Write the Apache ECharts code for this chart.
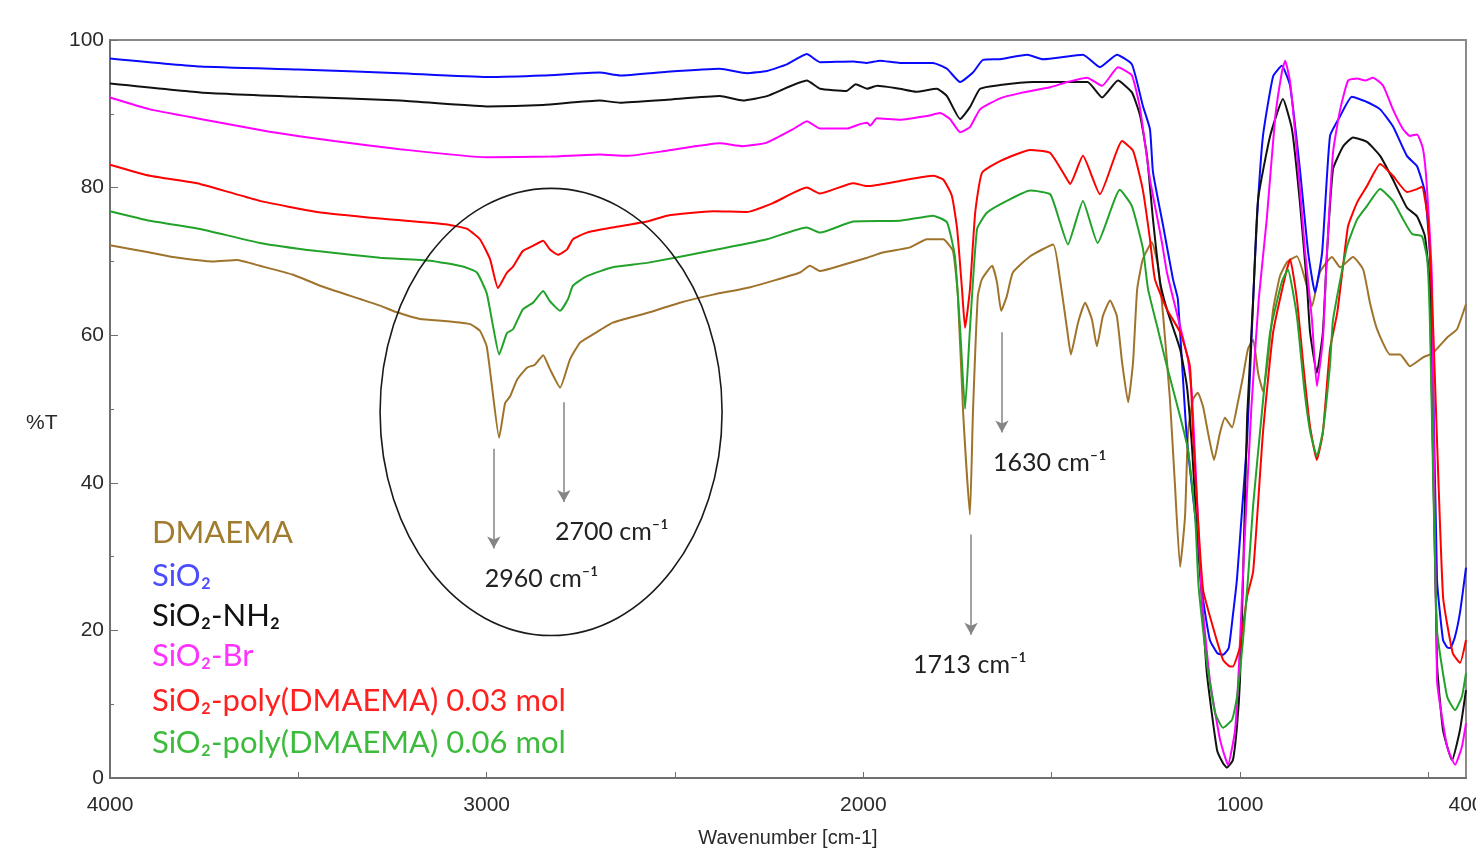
<!DOCTYPE html>
<html>
<head>
<meta charset="utf-8">
<title>FTIR</title>
<script src="https://cdn.jsdelivr.net/npm/echarts@6/dist/echarts.min.js"></script>
<style>
  html, body { margin: 0; padding: 0; background: #fff; }
  #irChart { width: 1476px; height: 851px; }
</style>
</head>
<body>
<div id="irChart"></div>
<script>
// spectra: [wavenumber cm-1, %T]
var dmaema = [
  [4000,72.2],[3894,71.2],[3833,70.6],[3727,70.0],[3663,70.2],[3602,69.4],[3514,68.2],[3442,66.7],[3336,64.9],[3283,64.0],
  [3238,63.1],[3177,62.2],[3105,61.9],[3044,61.5],[3018,60.6],[3000,58.5],[2986,53.1],[2967,46.1],[2951,50.8],[2938,51.7],
  [2919,54.0],[2893,55.6],[2872,56.0],[2850,57.3],[2832,55.4],[2805,52.9],[2779,56.7],[2752,59.0],[2718,60.1],[2665,61.7],
  [2574,63.0],[2487,64.4],[2399,65.5],[2300,66.5],[2168,68.5],[2142,69.4],[2115,68.7],[2062,69.4],[1990,70.5],[1948,71.2],
  [1876,71.9],[1831,73.0],[1788,73.0],[1762,71.4],[1749,65.3],[1735,49.5],[1717,35.7],[1709,49.5],[1696,65.3],[1685,67.6],
  [1658,69.4],[1645,67.1],[1634,63.3],[1619,65.3],[1603,68.5],[1557,70.7],[1496,72.3],[1478,67.6],[1459,60.8],[1449,57.4],
  [1430,61.7],[1411,64.4],[1393,62.1],[1380,58.5],[1364,62.6],[1345,64.7],[1327,62.6],[1313,56.3],[1297,50.9],[1284,56.3],
  [1273,66.2],[1258,70.3],[1234,72.6],[1218,69.4],[1204,62.6],[1186,51.3],[1173,40.0],[1159,28.6],[1146,35.4],[1138,46.8],
  [1125,51.3],[1112,52.2],[1098,50.3],[1085,46.8],[1069,43.1],[1053,46.8],[1040,48.8],[1021,47.5],[1008,50.3],[992,54.4],
  [979,58.1],[965,59.4],[952,54.9],[939,52.4],[926,56.7],[912,63.5],[894,68.0],[875,69.9],[849,70.7],[822,66.6],
  [809,63.9],[788,68.5],[756,70.6],[734,69.2],[700,70.6],[673,68.9],[655,64.4],[636,60.8],[602,57.4],[575,57.4],
  [549,55.8],[514,57.0],[488,57.6],[450,59.7],[424,60.8],[402,63.9],[400,64.2]
];
var sio2 = [
  [4000,97.5],[3760,96.4],[3500,96.0],[3230,95.5],[3000,95.0],[2850,95.2],[2700,95.6],[2646,95.2],[2521,95.7],[2381,96.1],
  [2309,95.5],[2256,95.8],[2203,96.7],[2150,98.1],[2115,97.0],[2027,97.1],[1990,96.9],[1956,97.2],[1903,96.9],[1815,96.9],
  [1778,96.1],[1743,94.3],[1709,95.6],[1682,97.3],[1637,97.4],[1565,98.0],[1523,97.4],[1417,98.0],[1372,96.3],[1327,98.0],
  [1287,96.7],[1258,91.1],[1239,87.9],[1231,82.1],[1204,74.8],[1178,67.6],[1165,64.9],[1141,45.9],[1114,33.2],[1098,24.2],
  [1080,18.7],[1060,16.9],[1045,16.7],[1030,17.6],[1019,22.0],[1008,27.0],[995,36.0],[981,45.9],[965,64.9],[955,75.7],
  [939,87.0],[912,95.1],[889,96.5],[867,93.8],[841,82.5],[819,71.2],[801,65.8],[782,71.2],[761,87.0],[734,89.7],
  [703,92.3],[663,91.6],[628,90.6],[594,88.3],[557,84.3],[530,82.9],[509,79.4],[496,71.2],[490,62.1],[477,26.9],
  [461,18.7],[450,17.7],[442,17.6],[430,19.0],[416,22.4],[400,28.5]
];
var sio2NH2 = [
  [4000,94.1],[3760,92.9],[3500,92.3],[3230,91.8],[3000,91.0],[2850,91.2],[2700,91.8],[2646,91.5],[2521,91.9],[2381,92.4],
  [2320,91.8],[2256,92.4],[2150,94.5],[2115,93.4],[2045,93.1],[2020,94.0],[1990,93.4],[1963,93.8],[1903,93.4],[1860,93.0],
  [1805,93.4],[1778,92.4],[1743,89.3],[1717,90.9],[1690,93.4],[1637,93.9],[1550,94.3],[1405,94.3],[1366,92.2],[1324,94.5],
  [1287,92.9],[1265,89.7],[1247,84.3],[1231,75.7],[1212,67.2],[1194,63.5],[1159,58.1],[1141,53.1],[1127,44.5],[1114,33.2],
  [1101,24.2],[1088,14.2],[1061,3.8],[1045,2.0],[1035,1.4],[1019,2.4],[1008,7.0],[1000,13.3],[992,26.9],[981,49.0],
  [965,64.9],[952,78.4],[920,87.0],[886,92.0],[862,87.9],[841,78.0],[822,66.6],[814,60.4],[796,54.9],[780,60.4],
  [769,71.2],[753,82.5],[726,85.6],[700,86.8],[663,86.2],[628,84.3],[594,81.1],[557,77.3],[530,76.1],[509,73.4],
  [496,66.6],[477,15.6],[461,6.5],[437,2.4],[416,6.5],[400,11.9]
];
var sio2Br = [
  [4000,92.2],[3894,90.6],[3760,89.3],[3580,87.6],[3405,86.3],[3230,85.2],[3000,84.1],[2830,84.2],[2700,84.5],[2628,84.3],
  [2521,85.0],[2381,86.0],[2320,85.6],[2256,86.1],[2187,87.9],[2150,89.0],[2115,88.0],[2043,88.0],[2009,88.6],[1990,88.8],
  [1982,88.4],[1964,89.4],[1903,89.2],[1831,89.7],[1796,90.1],[1770,89.3],[1743,87.5],[1717,88.2],[1690,90.6],[1637,92.1],
  [1584,92.8],[1504,93.6],[1459,94.3],[1406,94.9],[1366,93.8],[1324,96.3],[1287,95.2],[1265,90.6],[1239,81.1],[1220,76.0],
  [1207,72.5],[1194,68.5],[1159,61.2],[1138,56.7],[1127,51.3],[1114,37.7],[1101,24.2],[1080,13.3],[1053,5.2],[1032,1.8],
  [1013,6.5],[1003,15.0],[990,30.0],[970,50.0],[950,65.0],[929,75.7],[907,89.3],[889,95.6],[880,97.2],[867,94.3],
  [849,84.8],[827,71.2],[809,62.1],[796,53.1],[780,59.4],[769,71.2],[753,84.8],[734,90.6],[713,94.5],[689,94.8],
  [668,94.5],[647,94.9],[620,93.8],[594,90.6],[567,87.9],[549,87.0],[530,87.2],[514,85.2],[504,80.2],[490,66.6],
  [477,13.3],[450,4.2],[429,1.8],[411,4.2],[400,7.4]
];
var poly003 = [
  [4000,83.1],[3894,81.6],[3761,80.5],[3602,78.2],[3450,76.7],[3283,75.8],[3105,75.0],[3052,74.4],[3018,73.0],[2991,70.3],
  [2970,66.4],[2946,68.5],[2930,69.3],[2904,71.4],[2877,72.1],[2850,72.8],[2832,71.6],[2811,70.9],[2787,71.6],[2771,73.0],
  [2734,73.9],[2665,74.6],[2574,75.4],[2521,76.2],[2399,76.8],[2309,76.7],[2240,77.9],[2150,80.0],[2115,79.2],[2027,80.6],
  [1990,80.2],[1903,80.9],[1815,81.6],[1788,81.1],[1765,78.9],[1751,74.4],[1738,66.2],[1730,61.0],[1717,66.2],[1703,76.6],
  [1685,82.0],[1637,83.6],[1557,85.1],[1504,84.7],[1459,81.1],[1451,80.5],[1417,84.3],[1372,79.1],[1313,86.3],[1284,85.0],
  [1258,79.7],[1239,73.0],[1226,67.6],[1194,63.5],[1159,60.4],[1133,55.8],[1125,46.8],[1112,35.4],[1098,25.5],[1072,20.5],
  [1045,16.0],[1030,15.2],[1019,15.1],[1000,17.8],[981,24.6],[965,28.0],[939,46.8],[912,60.4],[880,68.0],[867,70.3],
  [849,64.9],[830,55.0],[814,47.6],[796,43.1],[780,46.8],[761,58.1],[742,63.0],[725,70.0],[713,74.8],[689,78.0],
  [663,80.2],[628,83.2],[594,81.6],[557,79.4],[530,79.8],[517,80.1],[501,75.7],[488,62.1],[461,24.6],[435,16.9],
  [416,15.6],[400,18.7]
];
var poly006 = [
  [4000,76.8],[3894,75.5],[3761,74.4],[3602,72.5],[3450,71.4],[3283,70.5],[3150,70.1],[3063,69.3],[3026,68.5],[3000,65.7],
  [2983,61.2],[2967,57.4],[2946,60.3],[2930,60.8],[2904,63.5],[2877,64.4],[2850,66.0],[2832,64.6],[2805,63.3],[2784,64.9],
  [2771,66.7],[2734,68.0],[2665,69.2],[2574,69.8],[2399,71.5],[2256,73.0],[2150,74.6],[2115,73.9],[2027,75.4],[1903,75.5],
  [1815,76.2],[1778,75.3],[1757,70.7],[1743,60.8],[1730,50.0],[1717,60.8],[1698,74.4],[1672,76.6],[1619,78.2],[1557,79.6],
  [1504,79.1],[1478,75.3],[1457,72.3],[1417,78.2],[1378,72.5],[1319,79.7],[1287,77.5],[1258,71.8],[1244,66.2],[1220,61.2],
  [1194,55.8],[1159,49.0],[1138,44.5],[1119,35.4],[1110,26.0],[1088,15.6],[1066,8.8],[1045,6.8],[1021,7.9],[1008,11.0],
  [992,18.7],[979,26.9],[965,37.0],[947,46.8],[920,60.4],[889,67.2],[873,68.9],[849,62.6],[830,53.0],[814,47.0],
  [796,43.6],[780,47.0],[761,56.0],[753,62.1],[716,72.0],[689,75.7],[663,77.5],[628,79.8],[594,78.2],[567,75.7],
  [543,73.7],[517,73.4],[503,70.3],[496,62.1],[477,20.1],[450,11.0],[429,9.2],[411,11.0],[400,14.2]
];

var xLabelValues = [4000, 3000, 2000, 1000, 400];
var xTickValues = [4000, 3500, 3000, 2500, 2000, 1500, 1000, 500];

var seriesNames = ['DMAEMA', 'SiO₂', 'SiO₂-NH₂', 'SiO₂-Br', 'SiO₂-poly(DMAEMA) 0.03 mol', 'SiO₂-poly(DMAEMA) 0.06 mol'];

// peak arrows: wavenumber, top %T, tip %T, label
var peakArrows = [
  [2981, 44.6, 31.1, '2960'],
  [2795, 50.9, 37.4, '2700'],
  [1632, 60.4, 46.8, '1630'],
  [1714, 33.0, 19.4, '1713']
];
// circled C-H region: centre [wavenumber, %T], half width (cm-1), half height (%T)
var circleCentre = [2829, 49.6];
var circleHalf = [454, 30.3];

(function () {
  var dom = document.getElementById('irChart');
  var myChart = echarts.init(dom, null, { renderer: 'canvas' });

  var lineColors = ['#a0732d', '#0a0aff', '#111111', '#ff00ff', '#ff0000', '#22a22a'];
  var legendColors = ['#a07c2e', '#4b4bff', '#111111', '#ff33ff', '#ff2020', '#3dbb3d'];
  var allData = [dmaema, sio2, sio2NH2, sio2Br, poly003, poly006];

  var series = allData.map(function (d, i) {
    return {
      name: seriesNames[i],
      type: 'line',
      data: d,
      showSymbol: false,
      smooth: 0.15,
      silent: true,
      lineStyle: { color: lineColors[i], width: 2 },
      z: 2 + i
    };
  });

  // gray arrows pointing at the peaks
  series[0].markLine = {
    silent: true,
    animation: false,
    symbol: ['none', 'arrow'],
    symbolSize: [10, 12],
    label: { show: false },
    lineStyle: { color: '#858585', width: 1.5, type: 'solid' },
    emphasis: { disabled: true },
    data: peakArrows.map(function (a) {
      return [{ coord: [a[0], a[1]] }, { coord: [a[0], a[2]] }];
    })
  };

  var option = {
    animation: false,
    backgroundColor: '#fff',
    grid: {
      left: 110,
      top: 40,
      right: 10,
      bottom: 73,
      outerBoundsMode: 'none',
      show: true,
      borderColor: '#8a8a8a',
      borderWidth: 2
    },
    xAxis: {
      type: 'value',
      min: 400,
      max: 4000,
      inverse: true,
      name: 'Wavenumber [cm-1]',
      nameLocation: 'middle',
      nameGap: 50,
      nameTextStyle: { color: '#2a2a2a', fontSize: 20, fontFamily: 'Liberation Sans' },
      axisLine: { lineStyle: { color: '#707070', width: 2 } },
      axisTick: { inside: true, length: 6, customValues: xTickValues, lineStyle: { color: '#707070' } },
      axisLabel: {
        customValues: xLabelValues,
        margin: 17,
        color: '#2a2a2a',
        fontSize: 21,
        fontFamily: 'Liberation Sans',
        formatter: function (v) { return String(v); }
      },
      splitLine: { show: false }
    },
    yAxis: {
      type: 'value',
      min: 0,
      max: 100,
      interval: 20,
      axisLine: { show: true, lineStyle: { color: '#707070', width: 2 } },
      axisTick: { show: true, inside: true, length: 8, lineStyle: { color: '#707070' } },
      minorTick: { show: true, splitNumber: 2, length: 4, lineStyle: { color: '#707070' } },
      axisLabel: { margin: 6, color: '#2a2a2a', fontSize: 21, fontFamily: 'Liberation Sans' },
      splitLine: { show: false }
    },
    series: series
  };

  if (option && typeof option === 'object') {
    myChart.setOption(option);
  }

  // annotations placed with the chart's own scales
  var toPx = function (p) {
    return myChart.convertToPixel({ xAxisIndex: 0, yAxisIndex: 0 }, p);
  };
  var graphics = [];

  var c = toPx(circleCentre);
  var edge = toPx([circleCentre[0] - circleHalf[0], circleCentre[1] + circleHalf[1]]);
  graphics.push({
    type: 'ellipse',
    silent: true,
    shape: { cx: c[0], cy: c[1], rx: Math.abs(edge[0] - c[0]), ry: Math.abs(c[1] - edge[1]) },
    style: { fill: 'none', stroke: '#1a1a1a', lineWidth: 1.6 },
    z: 20
  });

  peakArrows.forEach(function (a) {
    var tip = toPx([a[0], a[2]]);
    var dx = a[3] === '1713' ? -58 : -9;
    graphics.push({
      type: 'text',
      silent: true,
      x: tip[0] + dx,
      y: tip[1] + 30,
      style: {
        text: a[3] + ' cm⁻¹',
        fill: '#222',
        font: '25px Lato, "Noto Sans", sans-serif',
        align: 'left',
        verticalAlign: 'middle'
      },
      z: 20
    });
  });

  var legendY = [533, 576, 616, 656, 701, 743];
  seriesNames.forEach(function (name, i) {
    graphics.push({
      type: 'text',
      silent: true,
      x: 152,
      y: legendY[i],
      style: {
        text: name,
        fill: legendColors[i],
        font: '31px Lato, "Noto Sans", sans-serif',
        align: 'left',
        verticalAlign: 'middle'
      },
      z: 20
    });
  });

  graphics.push({
    type: 'text',
    silent: true,
    x: 26,
    y: 423,
    style: {
      text: '%T',
      fill: '#2a2a2a',
      font: '21px "Liberation Sans", sans-serif',
      align: 'left',
      verticalAlign: 'middle'
    }
  });

  myChart.setOption({ graphic: graphics });
})();
</script>
</body>
</html>
